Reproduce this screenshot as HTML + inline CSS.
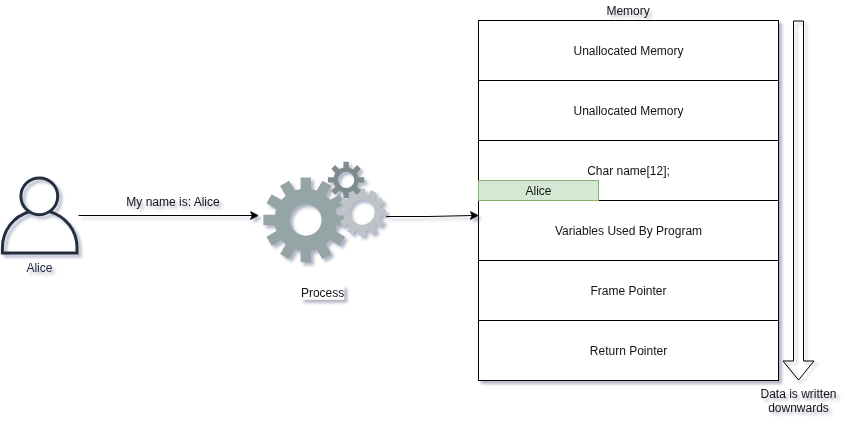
<!DOCTYPE html>
<html><head><meta charset="utf-8"><style>
html,body{margin:0;padding:0;background:#fff;width:860px;height:426px;overflow:hidden}
svg{display:block}
text{font-family:'Liberation Sans',sans-serif;font-size:12px}
</style></head><body>
<svg width="860" height="426" viewBox="0 0 860 426">
<defs><filter id="ds" filterUnits="userSpaceOnUse" x="0" y="0" width="860" height="426" color-interpolation-filters="sRGB">
<feGaussianBlur in="SourceAlpha" stdDeviation="1.7" result="b"/>
<feOffset in="b" dx="3" dy="3" result="o"/>
<feFlood flood-color="#3D4574" flood-opacity="0.4"/>
<feComposite in2="o" operator="in" result="s"/>
<feMerge><feMergeNode in="s"/><feMergeNode in="SourceGraphic"/></feMerge>
</filter>
<filter id="nf" filterUnits="userSpaceOnUse" x="0" y="0" width="860" height="426"><feOffset dx="0" dy="0"/></filter></defs>
<g filter="url(#ds)"><rect x="478.5" y="20.5" width="300.0" height="60" fill="#fff" stroke="#000"/><rect x="478.5" y="80.5" width="300.0" height="60" fill="#fff" stroke="#000"/><rect x="478.5" y="140.5" width="300.0" height="60" fill="#fff" stroke="#000"/><rect x="478.5" y="200.5" width="300.0" height="60" fill="#fff" stroke="#000"/><rect x="478.5" y="260.5" width="300.0" height="60" fill="#fff" stroke="#000"/><rect x="478.5" y="320.5" width="300.0" height="60" fill="#fff" stroke="#000"/></g>
<g filter="url(#nf)"><text x="628.5" y="54.7" fill="#141414" text-anchor="middle" >Unallocated Memory</text><text x="628.5" y="114.7" fill="#141414" text-anchor="middle" >Unallocated Memory</text><text x="628.5" y="174.7" fill="#141414" text-anchor="middle" >Char name[12];</text><text x="628.5" y="234.7" fill="#141414" text-anchor="middle" >Variables Used By Program</text><text x="628.5" y="294.7" fill="#141414" text-anchor="middle" >Frame Pointer</text><text x="628.5" y="354.7" fill="#141414" text-anchor="middle" >Return Pointer</text></g>
<rect x="478.5" y="180.5" width="120" height="20" fill="#d5e8d4" stroke="#82b366"/>
<g filter="url(#nf)"><text x="538.5" y="194.7" fill="#141414" text-anchor="middle" >Alice</text></g>
<g filter="url(#ds)"><text x="628.1" y="15.2" fill="#141414" text-anchor="middle" >Memory</text><path d="M793.5 21H803.5V361H814L798.5 380L783 361H793.5Z" fill="none" stroke="#000"/><text x="798.5" y="397.5" fill="#141414" text-anchor="middle" >Data is written</text><text x="798.5" y="411.7" fill="#141414" text-anchor="middle" >downwards</text><g fill="none" stroke="#232F3E" stroke-width="3"><circle cx="39.3" cy="196.3" r="18.4"/><path d="M29.34 211.77A37.3 37.3 0 0 0 2.40 247.6V253H77.00V247.6A37.3 37.3 0 0 0 49.50 211.61"/></g><text x="39.4" y="271.7" fill="#232F3E" text-anchor="middle" >Alice</text><path d="M78.5 215.5H253" stroke="#000" fill="none"/><path d="M257.98 215.5L250.58 219.3L252.43 215.5L250.58 211.7Z" fill="#000" stroke="#000"/><text x="173" y="205.6" fill="#141414" text-anchor="middle" >My name is: Alice</text><path fill-rule="evenodd" fill="#95A5A6" d="M300.55 188.98L300.55 177.57L310.95 177.57L310.95 188.98A31.4 31.4 0 0 1 316.73 190.53L322.44 180.65L331.44 185.85L325.74 195.73A31.4 31.4 0 0 1 329.97 199.96L339.85 194.26L345.05 203.26L335.17 208.97A31.4 31.4 0 0 1 336.72 214.75L348.13 214.75L348.13 225.15L336.72 225.15A31.4 31.4 0 0 1 335.17 230.93L345.05 236.64L339.85 245.64L329.97 239.94A31.4 31.4 0 0 1 325.74 244.17L331.44 254.05L322.44 259.25L316.73 249.37A31.4 31.4 0 0 1 310.95 250.92L310.95 262.33L300.55 262.33L300.55 250.92A31.4 31.4 0 0 1 294.77 249.37L289.06 259.25L280.06 254.05L285.76 244.17A31.4 31.4 0 0 1 281.53 239.94L271.65 245.64L266.45 236.64L276.33 230.93A31.4 31.4 0 0 1 274.78 225.15L263.37 225.15L263.37 214.75L274.78 214.75A31.4 31.4 0 0 1 276.33 208.97L266.45 203.26L271.65 194.26L281.53 199.96A31.4 31.4 0 0 1 285.76 195.73L280.06 185.85L289.06 180.65L294.77 190.53A31.4 31.4 0 0 1 300.55 188.98ZM290.05 219.95a15.7 15.7 0 1 0 31.40 0a15.7 15.7 0 1 0 -31.40 0Z"/><path fill-rule="evenodd" fill="#BDC3C7" d="M380.20 208.90L385.77 208.90L385.77 215.50L380.20 215.50A18.5 18.5 0 0 1 379.41 218.44L384.24 221.23L380.94 226.94L376.11 224.16A18.5 18.5 0 0 1 373.96 226.31L376.74 231.14L371.03 234.44L368.24 229.61A18.5 18.5 0 0 1 365.30 230.40L365.30 235.97L358.70 235.97L358.70 230.40A18.5 18.5 0 0 1 355.76 229.61L352.97 234.44L347.26 231.14L350.04 226.31A18.5 18.5 0 0 1 347.89 224.16L343.06 226.94L339.76 221.23L344.59 218.44A18.5 18.5 0 0 1 343.80 215.50L338.23 215.50L338.23 208.90L343.80 208.90A18.5 18.5 0 0 1 344.59 205.96L339.76 203.17L343.06 197.46L347.89 200.24A18.5 18.5 0 0 1 350.04 198.09L347.26 193.26L352.97 189.96L355.76 194.79A18.5 18.5 0 0 1 358.70 194.00L358.70 188.43L365.30 188.43L365.30 194.00A18.5 18.5 0 0 1 368.24 194.79L371.03 189.96L376.74 193.26L373.96 198.09A18.5 18.5 0 0 1 376.11 200.24L380.94 197.46L384.24 203.17L379.41 205.96A18.5 18.5 0 0 1 380.20 208.90ZM349.50 212.20a12.5 12.5 0 1 0 25.00 0a12.5 12.5 0 1 0 -25.00 0Z"/><path fill-rule="evenodd" fill="#7F8C8D" d="M343.40 167.39L343.40 161.70L348.80 161.70L348.80 167.39A12.8 12.8 0 0 1 353.04 169.14L357.06 165.12L360.88 168.94L356.86 172.96A12.8 12.8 0 0 1 358.61 177.20L364.30 177.20L364.30 182.60L358.61 182.60A12.8 12.8 0 0 1 356.86 186.84L360.88 190.86L357.06 194.68L353.04 190.66A12.8 12.8 0 0 1 348.80 192.41L348.80 198.10L343.40 198.10L343.40 192.41A12.8 12.8 0 0 1 339.16 190.66L335.14 194.68L331.32 190.86L335.34 186.84A12.8 12.8 0 0 1 333.59 182.60L327.90 182.60L327.90 177.20L333.59 177.20A12.8 12.8 0 0 1 335.34 172.96L331.32 168.94L335.14 165.12L339.16 169.14A12.8 12.8 0 0 1 343.40 167.39ZM338.00 179.90a8.1 8.1 0 1 0 16.20 0a8.1 8.1 0 1 0 -16.20 0Z"/><rect x="300.9" y="285.6" width="43.4" height="14.2" fill="#fff"/><text x="322.6" y="296.8" fill="#141414" text-anchor="middle" >Process</text><path d="M386.3 216.5H428L473 215.5" stroke="#000" fill="none"/><path d="M477.88 215.5L470.48 219.3L472.33 215.5L470.48 211.7Z" fill="#000" stroke="#000"/></g>
</svg>
</body></html>
